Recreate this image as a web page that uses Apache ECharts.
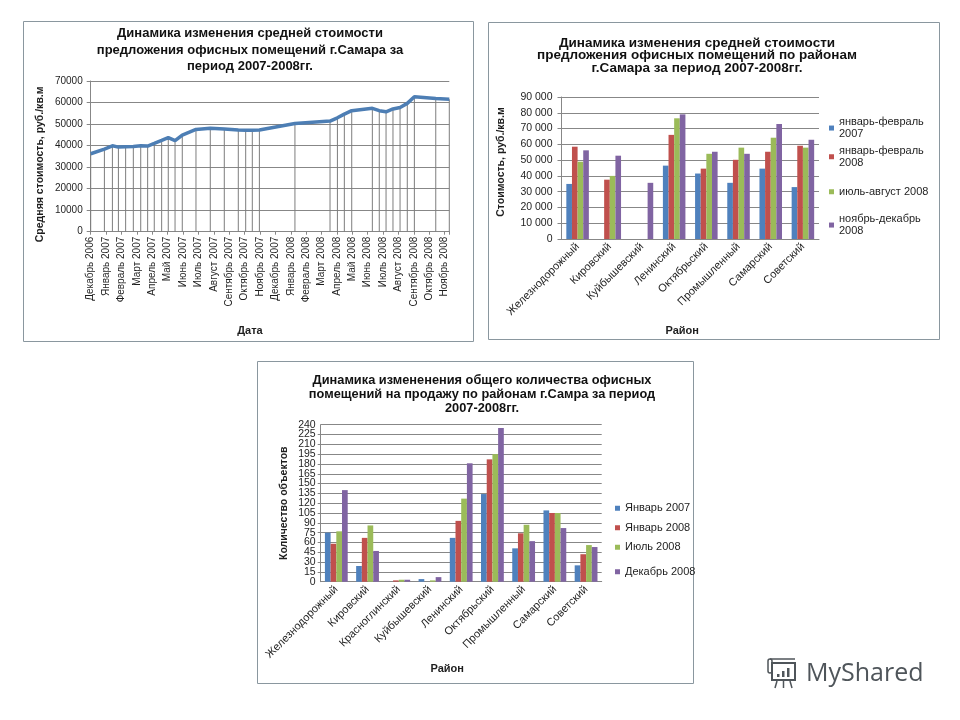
<!DOCTYPE html>
<html><head><meta charset="utf-8">
<script src="https://cdn.jsdelivr.net/npm/echarts@6/dist/echarts.min.js"></script>
<style>html,body{margin:0;padding:0;background:#fff}#c{width:960px;height:720px}</style>
</head><body><div id="c"></div>
<script>
// ---- Chart 1: average offer price over time ----
const monthLabels = ['Декабрь 2006','Январь 2007','Февраль 2007','Март 2007','Апрель 2007','Май 2007','Июнь 2007','Июль 2007','Август 2007','Сентябрь 2007','Октябрь 2007','Ноябрь 2007','Декабрь 2007','Январь 2008','Февраль 2008','Март 2008','Апрель 2008','Май 2008','Июнь 2008','Июль 2008','Август 2008','Сентябрь 2008','Октябрь 2008','Ноябрь 2008'];
// position of each observation in months from Декабрь 2006
const priceTime = [0, 0.89, 1.41, 1.80, 2.27, 2.77, 3.25, 3.70, 4.13, 4.61, 5.04, 5.48, 5.95, 6.84, 7.77, 8.68, 9.59, 10.07, 10.50, 10.96, 13.27, 15.55, 16.03, 16.48, 16.96, 18.30, 18.75, 19.19, 19.64, 20.10, 20.57, 21.03, 22.42, 23.30];
const priceValue = [36200, 38400, 39900, 39300, 39500, 39600, 39900, 39800, 41000, 42400, 43700, 42300, 44900, 47500, 48000, 47700, 47200, 47100, 47100, 47200, 50300, 51400, 52900, 54600, 56200, 57300, 56200, 55700, 57000, 57700, 59600, 62700, 61900, 61500];

// ---- Chart 2: average price by district ----
const districts2 = ['Железнодорожный','Кировский','Куйбышевский','Ленинский','Октябрьский','Промышленный','Самарский','Советский'];
const periods2 = ['январь-февраль 2007','январь-февраль 2008','июль-август 2008','ноябрь-декабрь 2008'];
const price2_janfeb07 = [34900, null, null, 46500, 41500, 35600, 44600, 32900];
const price2_janfeb08 = [58500, 37600, null, 66000, 44600, 50200, 55300, 59100];
const price2_julaug08 = [49000, 40000, null, 76500, 54000, 57900, 64200, 57900];
const price2_novdec08 = [56200, 52800, 35600, 79000, 55300, 54000, 72900, 62900];

// ---- Chart 3: number of offices for sale by district ----
const districts3 = ['Железнодорожный','Кировский','Красноглинский','Куйбышевский','Ленинский','Октябрьский','Промышленный','Самарский','Советский'];
const periods3 = ['Январь 2007','Январь 2008','Июль 2008','Декабрь 2008'];
const count3_jan07 = [75, 24, 0, 4, 67, 134, 51, 109, 25];
const count3_jan08 = [58, 67, 2, 0, 93, 187, 74, 105, 42];
const count3_jul08 = [77, 86, 3, 2, 127, 195, 87, 105, 56];
const count3_dec08 = [140, 47, 3, 7, 181, 235, 62, 82, 53];

const FF = '"Liberation Sans", Arial, sans-serif';
const FN = '"Liberation Sans Narrow", "Liberation Sans", Arial, sans-serif';
const TXT = '#1e1e1e';
const GRIDC = '#878787';
const COLORS = ['#4F81BD', '#C0504D', '#9BBB59', '#8064A2'];
const Y3_MIN = 0, Y3_MAX = 240, Y3_STEP = 15;

function spaced(v) { return String(v).replace(/\B(?=(\d{3})+(?!\d))/g, ' '); }
function plain(v) { return String(v); }

function legendItem(name, left, top, multi) {
  const l = {
    data: [name], left: left, top: top, orient: 'vertical', padding: 0,
    itemWidth: 5, itemHeight: 5, icon: 'rect', selectedMode: false,
    textStyle: { fontSize: 11, fontFamily: FF, color: TXT, lineHeight: 12.5, padding: multi ? [12.5, 0, 0, 0] : 0 }
  };
  if (multi) l.formatter = function (n) { return n.replace(' ', '\n'); };
  return l;
}

const chart = echarts.init(document.getElementById('c'), null, { renderer: 'canvas' });

const option = {
  animation: false,
  backgroundColor: '#fff',
  title: [
    { text: 'Динамика изменения средней стоимости\nпредложения офисных помещений г.Самара за\nпериод 2007-2008гг.',
      left: 250, top: 25.5, textAlign: 'center', padding: 0,
      textStyle: { fontSize: 13, fontWeight: 'bold', fontFamily: FF, color: '#111', lineHeight: 16.5 } },
    { text: 'Динамика изменения средней стоимости\nпредложения офисных помещений по районам\nг.Самара за период 2007-2008гг.',
      left: 697, top: 36.5, textAlign: 'center', padding: 0,
      textStyle: { fontSize: 13.5, fontWeight: 'bold', fontFamily: FF, color: '#111', lineHeight: 12.8 } },
    { text: 'Динамика измененения общего количества офисных\nпомещений на продажу по районам г.Самра за период\n2007-2008гг.',
      left: 482, top: 373, textAlign: 'center', padding: 0,
      textStyle: { fontSize: 12.8, fontWeight: 'bold', fontFamily: FF, color: '#111', lineHeight: 14 } }
  ],
  legend: [
    legendItem(periods2[0], 829, 109.3, true),
    legendItem(periods2[1], 829, 138, true),
    legendItem(periods2[2], 829, 185.5, false),
    legendItem(periods2[3], 829, 206.3, true),
    legendItem(periods3[0], 615, 502, false),
    legendItem(periods3[1], 615, 521.5, false),
    legendItem(periods3[2], 615, 541, false),
    legendItem(periods3[3], 615, 565.5, false)
  ],
  grid: [
    { left: 90.7, top: 81, width: 358.6, height: 150.7 },
    { left: 561.5, top: 97, width: 257.5, height: 142 },
    { left: 320.7, top: 424.7, width: 281, height: 157 }
  ],
  xAxis: [
    { gridIndex: 0, type: 'value', min: 0, max: 23.3, interval: 1,
      axisLine: { lineStyle: { color: GRIDC } },
      axisTick: { length: 3, lineStyle: { color: GRIDC } },
      splitLine: { show: false },
      axisLabel: { rotate: 90, margin: 5, fontSize: 10, fontFamily: FF, color: TXT,
        formatter: function (v) { return Number.isInteger(v) ? (monthLabels[v] || '') : ''; } },
      name: 'Дата', nameLocation: 'middle', nameGap: 94,
      nameTextStyle: { fontSize: 11, fontWeight: 'bold', fontFamily: FF, color: TXT, padding: [0, 40, 0, 0] } },
    { gridIndex: 1, type: 'category', data: districts2,
      axisLine: { lineStyle: { color: GRIDC } },
      axisTick: { length: 4, lineStyle: { color: GRIDC } },
      axisLabel: { rotate: 45, interval: 0, margin: 6, fontSize: 11, fontFamily: FF, color: TXT },
      name: 'Район', nameLocation: 'middle', nameGap: 86,
      nameTextStyle: { fontSize: 11, fontWeight: 'bold', fontFamily: FF, color: TXT, padding: [0, 16, 0, 0] } },
    { gridIndex: 2, type: 'category', data: districts3,
      axisLine: { lineStyle: { color: GRIDC } },
      axisTick: { length: 4, lineStyle: { color: GRIDC } },
      axisLabel: { rotate: 45, interval: 0, margin: 6, fontSize: 11, fontFamily: FF, color: TXT },
      name: 'Район', nameLocation: 'middle', nameGap: 82,
      nameTextStyle: { fontSize: 11, fontWeight: 'bold', fontFamily: FF, color: TXT, padding: [0, 28, 0, 0] } }
  ],
  yAxis: [
    { gridIndex: 0, type: 'value', min: 0, max: 70000, interval: 10000,
      axisLine: { show: true, lineStyle: { color: GRIDC } },
      axisTick: { show: true, length: 4, lineStyle: { color: GRIDC } },
      splitLine: { lineStyle: { color: GRIDC } },
      axisLabel: { margin: 8, fontSize: 10, fontFamily: FF, color: TXT, formatter: plain },
      name: 'Средняя стоимость, руб./кв.м', nameLocation: 'middle', nameGap: 45,
      nameTextStyle: { fontSize: 10.5, fontWeight: 'bold', fontFamily: FF, color: TXT, padding: [0, 16, 0, 0] } },
    { gridIndex: 1, type: 'value', min: 0, max: 90000, interval: 10000,
      axisLine: { show: true, lineStyle: { color: GRIDC } },
      axisTick: { show: true, length: 4, lineStyle: { color: GRIDC } },
      splitLine: { lineStyle: { color: GRIDC } },
      axisLabel: { margin: 9, fontSize: 10.5, fontFamily: FF, color: TXT, formatter: spaced },
      name: 'Стоимость, руб./кв.м', nameLocation: 'middle', nameGap: 55,
      nameTextStyle: { fontSize: 10.5, fontWeight: 'bold', fontFamily: FF, color: TXT, padding: [0, 0, 0, 12] } },
    // main axis of chart 3 (inner labels 15..225)
    { gridIndex: 2, type: 'value', min: Y3_MIN, max: Y3_MAX, interval: Y3_STEP,
      axisLine: { show: true, lineStyle: { color: GRIDC } },
      axisTick: { show: true, length: 3, lineStyle: { color: GRIDC } },
      splitLine: { lineStyle: { color: GRIDC } },
      axisLabel: { margin: 5, fontSize: 10.5, showMinLabel: false, showMaxLabel: false,
        fontFamily: FN, color: TXT, formatter: plain },
      name: 'Количество объектов', nameLocation: 'middle', nameGap: 31,
      nameTextStyle: { fontSize: 10.5, fontWeight: 'bold', fontFamily: FF, color: TXT } },
    // companion axis of chart 3 carrying only the end labels 0 and 240
    { gridIndex: 2, type: 'value', min: Y3_MIN, max: Y3_MAX, interval: Y3_STEP, position: 'left',
      axisLine: { show: false }, axisTick: { show: false }, splitLine: { show: false },
      axisLabel: { margin: 5, fontSize: 10.5, showMinLabel: true, showMaxLabel: true,
        fontFamily: FN, color: TXT,
        formatter: function (v) { return (v === Y3_MIN || v === Y3_MAX) ? String(v) : ''; } } }
  ],
  series: [
    { name: 'drop', type: 'bar', xAxisIndex: 0, yAxisIndex: 0, barWidth: 1, silent: true, z: 1,
      itemStyle: { color: '#7d7d7d' },
      data: priceTime.map(function (t, i) { return [t, priceValue[i]]; }) },
    { name: 'Средняя стоимость', type: 'line', xAxisIndex: 0, yAxisIndex: 0, symbol: 'none', z: 3,
      lineStyle: { width: 3.5, color: '#4d7eb4' },
      data: priceTime.map(function (t, i) { return [t, priceValue[i]]; }) },

    { name: periods2[0], type: 'bar', xAxisIndex: 1, yAxisIndex: 1, barGap: '0%', barCategoryGap: '30%', itemStyle: { color: COLORS[0] }, data: price2_janfeb07 },
    { name: periods2[1], type: 'bar', xAxisIndex: 1, yAxisIndex: 1, barGap: '0%', barCategoryGap: '30%', itemStyle: { color: COLORS[1] }, data: price2_janfeb08 },
    { name: periods2[2], type: 'bar', xAxisIndex: 1, yAxisIndex: 1, barGap: '0%', barCategoryGap: '30%', itemStyle: { color: COLORS[2] }, data: price2_julaug08 },
    { name: periods2[3], type: 'bar', xAxisIndex: 1, yAxisIndex: 1, barGap: '0%', barCategoryGap: '30%', itemStyle: { color: COLORS[3] }, data: price2_novdec08 },

    { name: periods3[0], type: 'bar', xAxisIndex: 2, yAxisIndex: 2, barGap: '0%', barCategoryGap: '27%', itemStyle: { color: COLORS[0] }, data: count3_jan07 },
    { name: periods3[1], type: 'bar', xAxisIndex: 2, yAxisIndex: 2, barGap: '0%', barCategoryGap: '27%', itemStyle: { color: COLORS[1] }, data: count3_jan08 },
    { name: periods3[2], type: 'bar', xAxisIndex: 2, yAxisIndex: 2, barGap: '0%', barCategoryGap: '27%', itemStyle: { color: COLORS[2] }, data: count3_jul08 },
    { name: periods3[3], type: 'bar', xAxisIndex: 2, yAxisIndex: 2, barGap: '0%', barCategoryGap: '27%', itemStyle: { color: COLORS[3] }, data: count3_dec08 }
  ],
  graphic: [
    { type: 'rect', silent: true, z: -10, shape: { x: 23.5, y: 21.5, width: 450, height: 320 }, style: { fill: 'none', stroke: '#8a979f', lineWidth: 1 } },
    { type: 'rect', silent: true, z: -10, shape: { x: 488.5, y: 22.5, width: 451, height: 317 }, style: { fill: 'none', stroke: '#8a979f', lineWidth: 1 } },
    { type: 'rect', silent: true, z: -10, shape: { x: 257.5, y: 361.5, width: 436, height: 322 }, style: { fill: 'none', stroke: '#8a979f', lineWidth: 1 } },
    { type: 'group', silent: true, children: [
      { type: 'rect', shape: { x: 772, y: 663, width: 23, height: 17 }, style: { fill: 'none', stroke: '#4f555a', lineWidth: 2 } },
      { type: 'rect', shape: { x: 768, y: 659, width: 4, height: 14, r: 2 }, style: { fill: 'none', stroke: '#4f555a', lineWidth: 1.5 } },
      { type: 'line', shape: { x1: 770, y1: 659, x2: 795, y2: 659 }, style: { stroke: '#4f555a', lineWidth: 1.5 } },
      { type: 'rect', shape: { x: 777, y: 674, width: 2.5, height: 3 }, style: { fill: '#4f555a' } },
      { type: 'rect', shape: { x: 782, y: 671, width: 2.5, height: 6 }, style: { fill: '#4f555a' } },
      { type: 'rect', shape: { x: 787, y: 668, width: 2.5, height: 9 }, style: { fill: '#4f555a' } },
      { type: 'line', shape: { x1: 777, y1: 681, x2: 775, y2: 688 }, style: { stroke: '#4f555a', lineWidth: 1.5 } },
      { type: 'line', shape: { x1: 783.5, y1: 681, x2: 783.5, y2: 688 }, style: { stroke: '#4f555a', lineWidth: 1.5 } },
      { type: 'line', shape: { x1: 790, y1: 681, x2: 792, y2: 688 }, style: { stroke: '#4f555a', lineWidth: 1.5 } },
      { type: 'text', style: { x: 806, y: 674, text: 'MyShared', fill: '#4f555a', font: '25px "Open Sans", "Noto Sans", sans-serif', textVerticalAlign: 'middle' } }
    ] }
  ]
};
chart.setOption(option);
</script>
</body></html>
